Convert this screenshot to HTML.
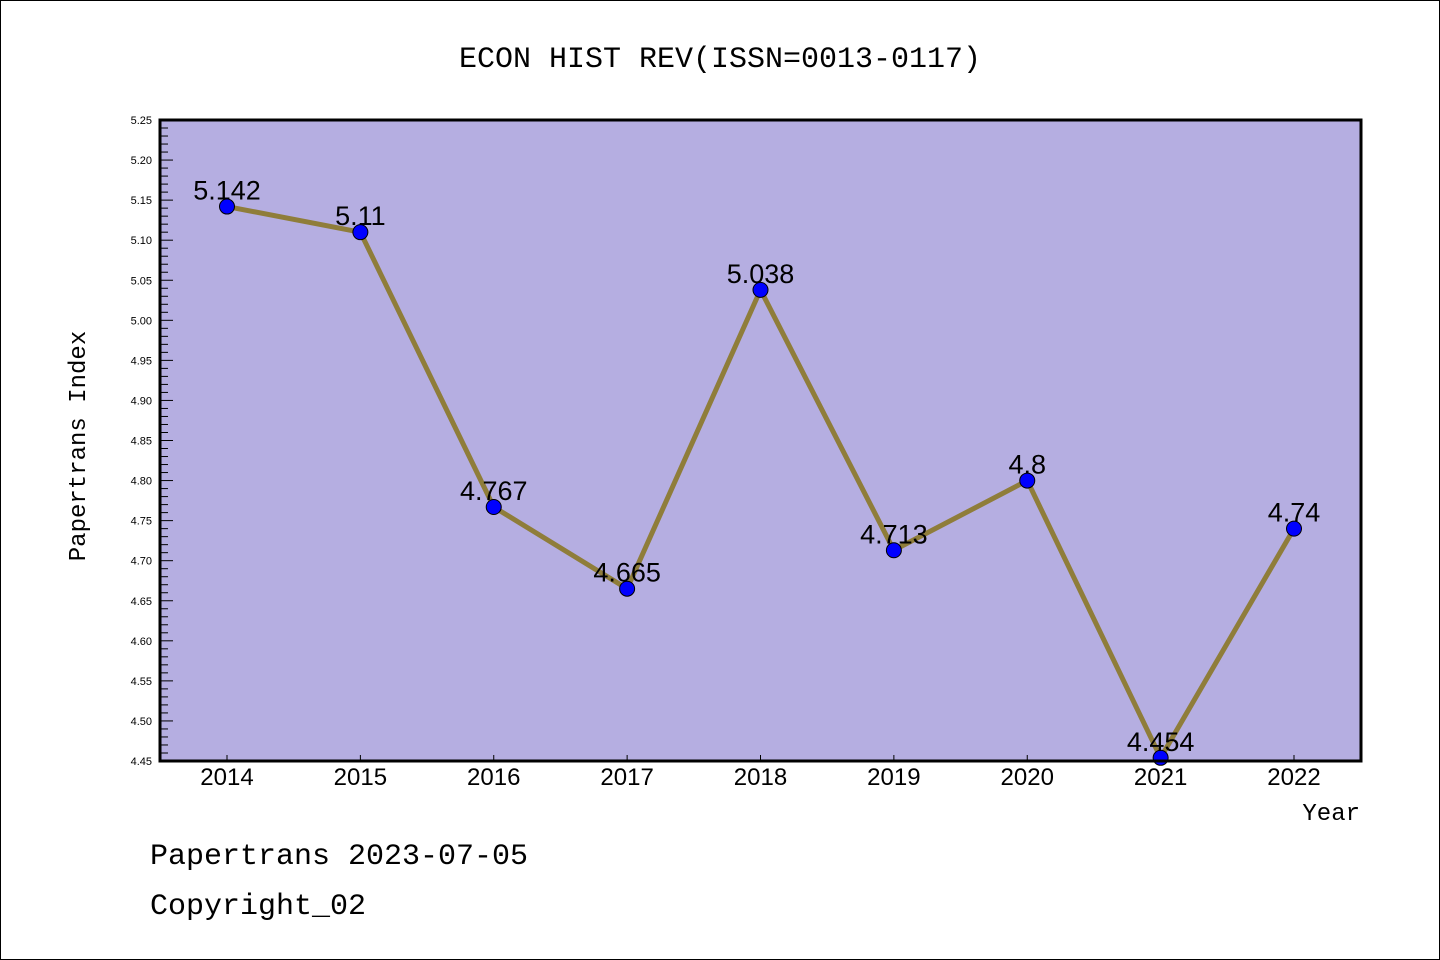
<!DOCTYPE html>
<html><head><meta charset="utf-8"><style>
body{margin:0;background:#fff;}
svg{display:block;font-family:"Liberation Sans","WenQuanYi Zen Hei",sans-serif;}
</style></head><body>
<svg id="chart" width="1440" height="960" viewBox="0 0 1440 960">
<rect x="0.5" y="0.5" width="1439" height="959" fill="#fff" stroke="#000"/>
<text x="720" y="67" font-size="30" text-anchor="middle" font-family="'WenQuanYi Zen Hei','Liberation Mono',monospace">ECON HIST REV(ISSN=0013-0117)</text>
<rect x="160" y="120" width="1201" height="641" fill="#b5aee1"/>
<g id="ticks"></g>
<g id="series"></g>
<rect x="160" y="120" width="1201" height="641" fill="none" stroke="#000" stroke-width="3"/>
<text transform="translate(85,446) rotate(-90)" font-size="24" text-anchor="middle" font-family="'WenQuanYi Zen Hei','Liberation Mono',monospace">Papertrans Index</text>
<text x="1360" y="820" font-size="24" text-anchor="end" font-family="'WenQuanYi Zen Hei','Liberation Mono',monospace">Year</text>
<text x="150" y="864" font-size="30" font-family="'WenQuanYi Zen Hei','Liberation Mono',monospace">Papertrans 2023-07-05</text>
<text x="150" y="914" font-size="30" font-family="'WenQuanYi Zen Hei','Liberation Mono',monospace">Copyright_02</text>
</svg>
<script>
const years = ["2014","2015","2016","2017","2018","2019","2020","2021","2022"];
const values = [5.142,5.11,4.767,4.665,5.038,4.713,4.8,4.454,4.74];
const valueLabels = ["5.142","5.11","4.767","4.665","5.038","4.713","4.8","4.454","4.74"];
const yTicks = ["4.45","4.50","4.55","4.60","4.65","4.70","4.75","4.80","4.85","4.90","4.95","5.00","5.05","5.10","5.15","5.20","5.25"];
const NS="http://www.w3.org/2000/svg";
const L=160,R=1361,T=120,B=761,yMin=4.45,yMax=5.25;
const xS=i=>227+i*(1294-227)/(years.length-1);
const yS=v=>B-(v-yMin)/(yMax-yMin)*(B-T);
function mk(t,a,p){const e=document.createElementNS(NS,t);for(const k in a)e.setAttribute(k,a[k]);p.appendChild(e);return e;}
const tg=document.getElementById('ticks'),sg=document.getElementById('series');
for(let k=0;k<=80;k++){const v=yMin+k*0.01,y=yS(v),maj=k%5===0;
 const l=mk('line',{x1:L,x2:L+(maj?13:8),y1:y,y2:y,stroke:'#000','stroke-width':1},tg);
 
 }
yTicks.forEach(t=>{const e=mk('text',{x:152,y:yS(+t)+4,'font-size':11,'text-anchor':'end'},tg);e.textContent=t;
 
 });
years.forEach((yr,i)=>{const x=xS(i);
 const l=mk('line',{x1:x,x2:x,y1:B,y2:B-6,stroke:'#000'},tg);
 
 
 const e=mk('text',{x:x,y:785,'font-size':24,'text-anchor':'middle'},tg);e.textContent=yr;
 
 });
const pl=mk('polyline',{points:values.map((v,i)=>xS(i)+','+yS(v)).join(' '),fill:'none',stroke:'#8f7d3a','stroke-width':5},sg);


values.forEach((v,i)=>{const c=mk('circle',{cx:xS(i),cy:yS(v),r:7.5,fill:'#0000ff',stroke:'#000','stroke-width':1},sg);
 
 
 const t=mk('text',{x:xS(i),y:yS(v)-7,'font-size':27,'text-anchor':'middle'},sg);t.textContent=valueLabels[i];
 
 });
</script>
</body></html>
